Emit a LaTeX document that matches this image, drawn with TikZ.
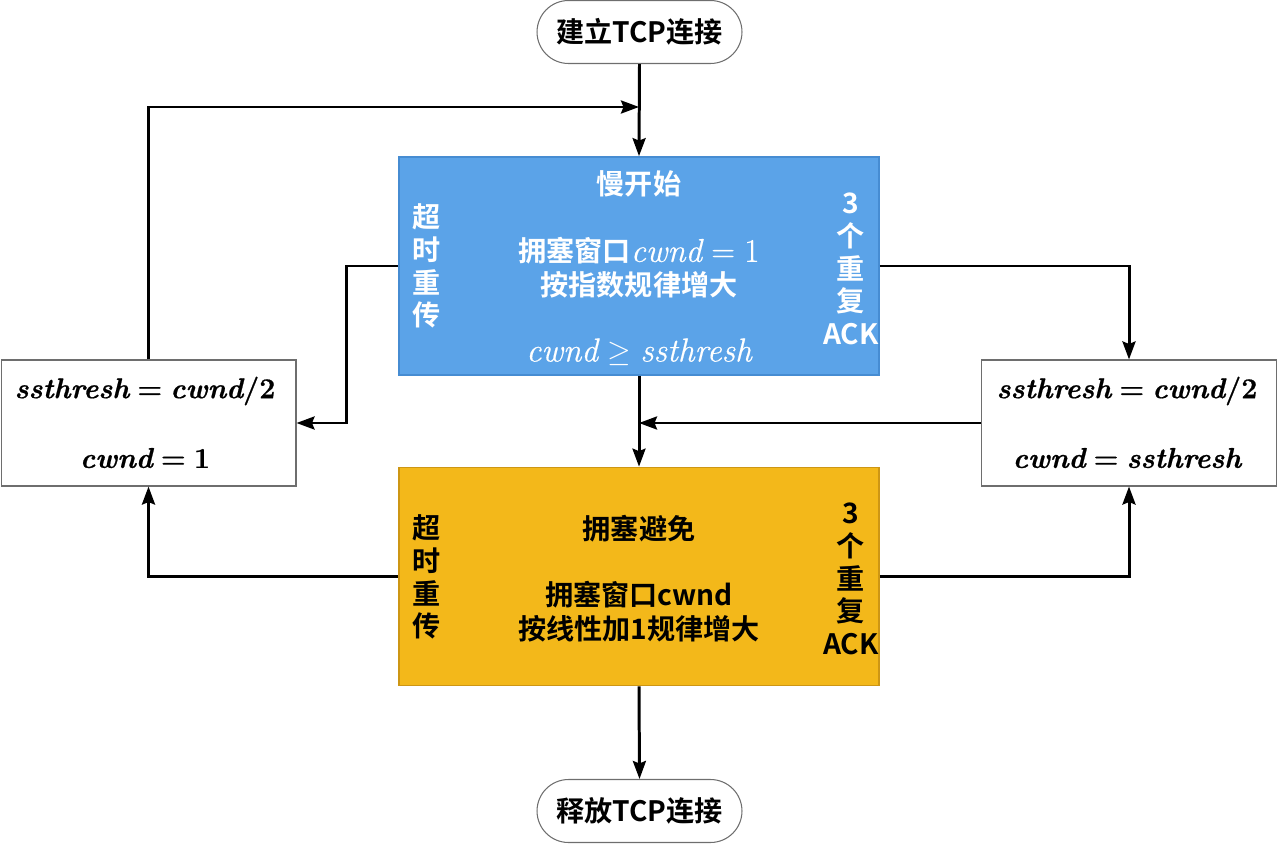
\documentclass[tikz,border=0pt]{standalone}
\usepackage{fontspec}
\setmainfont{Noto Sans CJK SC}[BoldFont={Noto Sans CJK SC Bold}]
\newfontfamily\lmr{Latin Modern Roman}[FakeBold=0.5]
\newfontfamily\lmrb{Latin Modern Roman}[FakeBold=0.7]
\usetikzlibrary{arrows.meta,shapes.misc}
\definecolor{bluefill}{RGB}{91,163,232}
\definecolor{blueline}{RGB}{70,140,210}
\definecolor{orfill}{RGB}{243,184,26}
\definecolor{orline}{RGB}{205,150,20}
\definecolor{grayline}{RGB}{110,110,110}
\newcommand\mv[1]{{\itshape #1}}
\newcommand\mrel[1]{\hspace{0.28em}{\upshape #1}\hspace{0.28em}}
\begin{document}
\begin{tikzpicture}[x=0.02cm,y=-0.02cm,
  term/.style={rounded rectangle, draw=grayline, line width=0.6pt, minimum width=4.1cm, minimum height=1.26cm, inner sep=0pt, font=\fontsize{16}{19}\selectfont\bfseries},
  bigbox/.style={rectangle, line width=1pt, minimum width=9.6cm, minimum height=4.36cm, inner sep=0pt},
  sidebox/.style={rectangle, draw=grayline, line width=0.6pt, fill=white, minimum width=5.9cm, minimum height=2.52cm, inner sep=0pt},
  txt/.style={inner sep=0pt, font=\fontsize{16}{18}\selectfont\bfseries},
  vtxt/.style={inner sep=0pt, align=center, font=\fontsize{16}{18.7}\selectfont\bfseries},
  mtxt/.style={inner sep=0pt, font=\lmr\fontsize{19}{21}\selectfont},
  btxt/.style={inner sep=0pt, font=\lmrb\fontsize{16.3}{19}\selectfont\bfseries},
  arr/.style={line width=1.7pt, -{Stealth[length=3.6mm,width=2.6mm,inset=0.5mm]}}
]
\useasboundingbox (0,0) rectangle (1278,845);
% nodes
\node[term] (start) at (639.5,32) {建立TCP连接};
\node[term] (stop) at (639.5,811) {释放TCP连接};
\node[bigbox, fill=bluefill, draw=blueline] (slow) at (639,266) {};
\node[bigbox, fill=orfill, draw=orline] (ca) at (639,576.5) {};
\node[sidebox] (lbox) at (148.5,423) {};
\node[sidebox] (rbox) at (1129,423) {};
% blue texts
\node[txt, text=white] (s1) at (639,184) {慢开始};
\node[txt, text=white] (s2) at (639,251) {拥塞窗口{\lmr\mdseries\fontsize{18.8}{19}\selectfont\mv{cwnd}\mrel{=}1}};
\node[txt, text=white] (s3) at (639,285) {按指数规律增大};
\node[mtxt, text=white] (s4) at (639,352) {\mv{cwnd}\hspace{0.28em}$\geq$\hspace{0.28em}\mv{ssthresh}};
\node[vtxt, text=white] (s5) at (427,266) {超\\时\\重\\传};
\node[vtxt, text=white] (s6) at (851,269) {3\\个\\重\\复\\ACK};
% orange texts
\node[txt] (c1) at (639,529) {拥塞避免};
\node[txt] (c2) at (639,595) {拥塞窗口cwnd};
\node[txt] (c3) at (639,629) {按线性加1规律增大};
\node[vtxt] (c5) at (427,577) {超\\时\\重\\传};
\node[vtxt] (c6) at (851,579) {3\\个\\重\\复\\ACK};
% side texts
\node[btxt] (l1) at (145,391) {\mv{ssthresh}\mrel{=}\mv{cwnd}/2};
\node[btxt] (l2) at (145,458) {\mv{cwnd}\mrel{=}1};
\node[btxt] (r1) at (1127,391) {\mv{ssthresh}\mrel{=}\mv{cwnd}/2};
\node[btxt] (r2) at (1127,458) {\mv{cwnd}\mrel{=}\mv{ssthresh}};
% junctions
\coordinate (jtop) at (639,107);
\coordinate (jmid) at (639,423);
% connectors
\draw[arr] (start.south) -- (slow.north);
\draw[arr] (lbox.north) |- (jtop);
\draw[arr] (slow.west) -- ++(-52,0) |- (lbox.east);
\draw[arr] (slow.east) -| (rbox.north);
\draw[arr] (slow.south) -- (ca.north);
\draw[arr] (rbox.west) -- (jmid);
\draw[arr] (ca.west) -| (lbox.south);
\draw[arr] (ca.east) -| (rbox.south);
\draw[arr] (ca.south) -- (stop.north);
\end{tikzpicture}
\end{document}
